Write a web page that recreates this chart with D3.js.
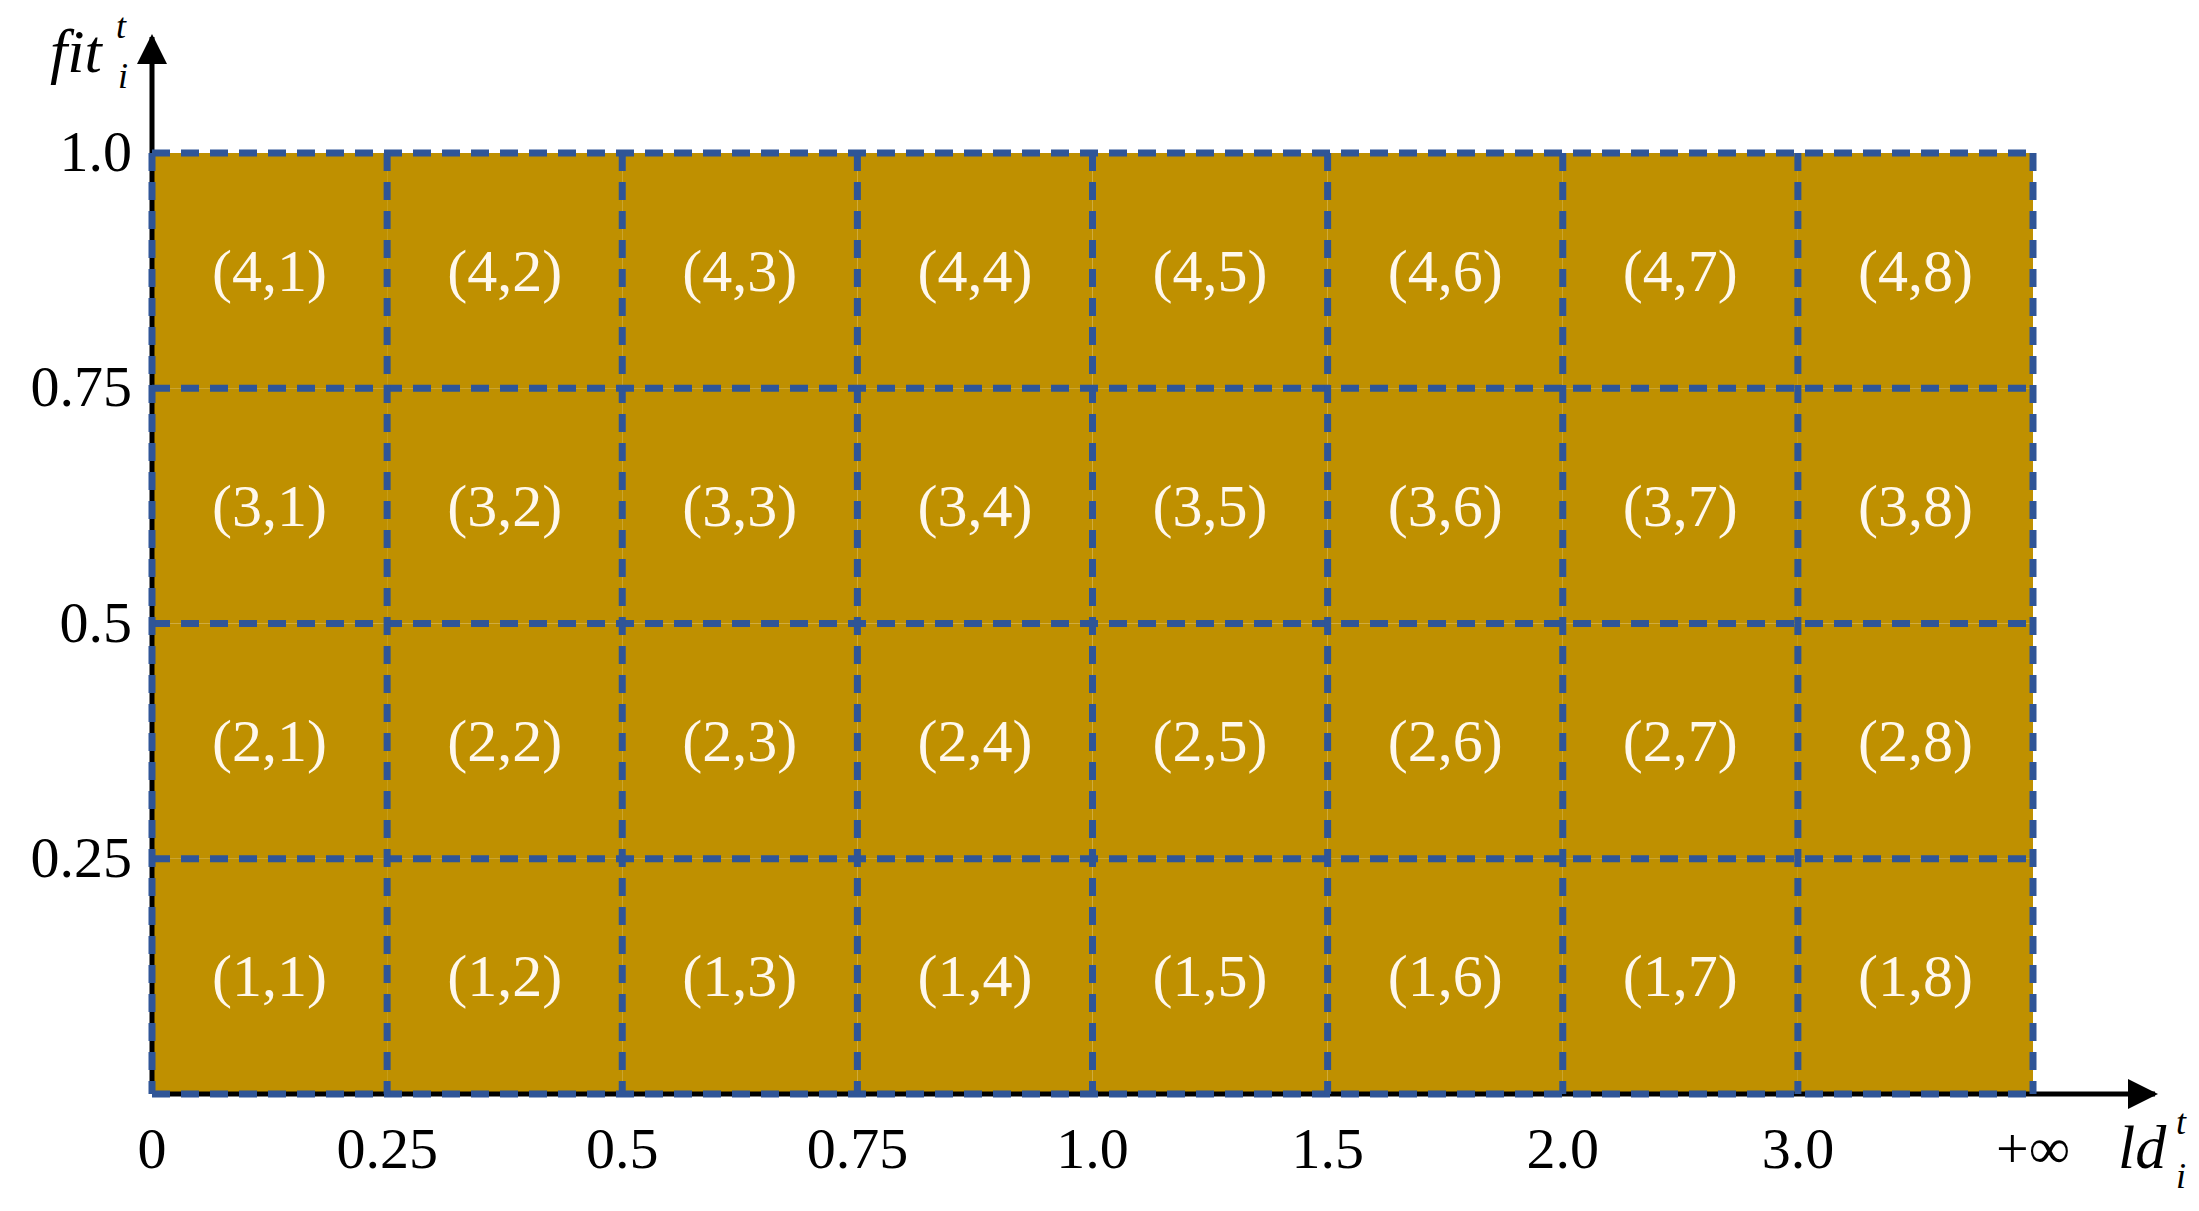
<!DOCTYPE html>
<html><head><meta charset="utf-8">
<script src="https://cdn.jsdelivr.net/npm/d3@7"></script>
<style>body{margin:0;background:#fff}</style></head>
<body><svg id="c" width="2199" height="1211"></svg>
<script>
const xTickLabels = ["0","0.25","0.5","0.75","1.0","1.5","2.0","3.0","+∞"];
const yTickLabels = ["0.25","0.5","0.75","1.0"];
const yTickValues = [0.25,0.5,0.75,1.0];
const columns = [1,2,3,4,5,6,7,8];
const rows = [1,2,3,4];

const svg = d3.select("#c");
const font = "'Liberation Serif','DejaVu Serif',serif";
const L=152, R=2033, T=153, B=1094;
const x = d3.scaleLinear().domain([0,8]).range([L,R]);
const y = d3.scaleLinear().domain([0,1]).range([B,T]);
const fill="#BF9000", blue="#2F5597";

const cells=[]; rows.forEach(r=>columns.forEach(c=>cells.push({r,c})));
svg.selectAll("rect.cell").data(cells).join("rect")
 .attr("x",d=>x(d.c-1)).attr("y",d=>y(d.r*0.25)).attr("width",x(1)-x(0)).attr("height",y(0)-y(0.25))
 .attr("fill",fill);
svg.selectAll("text.cell").data(cells).join("text")
 .attr("x",d=>x(d.c-0.5)).attr("y",d=>y(d.r*0.25-0.125)+20)
 .attr("text-anchor","middle").attr("font-family",font).attr("font-size",60).attr("fill","#FFF8EC")
 .text(d=>`(${d.r},${d.c})`);

// axes
svg.append("defs").append("marker").attr("id","ar").attr("viewBox","0 0 10 10").attr("refX",9).attr("refY",5)
 .attr("markerWidth",10).attr("markerHeight",10).attr("markerUnits","userSpaceOnUse").attr("orient","auto")
 .append("path").attr("d","M0,0L10,5L0,10Z");
d3.select("marker").attr("markerWidth",36).attr("markerHeight",30);
svg.append("line").attr("x1",L).attr("y1",B).attr("x2",L).attr("y2",37).attr("stroke","#000").attr("stroke-width",5).attr("marker-end","url(#ar)");
svg.append("line").attr("x1",L).attr("y1",B).attr("x2",2155).attr("y2",B).attr("stroke","#000").attr("stroke-width",5).attr("marker-end","url(#ar)");

// dashed grid
const dash="18,11";
[0,...yTickValues].forEach(v=>svg.append("line").attr("x1",L).attr("x2",R).attr("y1",y(v)).attr("y2",y(v))
 .attr("stroke",blue).attr("stroke-width",7).attr("stroke-dasharray",dash));
d3.range(0,9).forEach(i=>svg.append("line").attr("x1",x(i)).attr("x2",x(i)).attr("y1",T).attr("y2",B)
 .attr("stroke",blue).attr("stroke-width",7).attr("stroke-dasharray",dash));

// tick labels
svg.selectAll("text.xt").data(xTickLabels).join("text")
 .attr("x",(d,i)=>x(i)).attr("y",1168).attr("text-anchor","middle")
 .attr("font-family",font).attr("font-size",58).text(d=>d);
svg.selectAll("text.yt").data(yTickLabels).join("text")
 .attr("x",132).attr("y",(d,i)=>y(yTickValues[i])+18).attr("text-anchor","end")
 .attr("font-family",font).attr("font-size",58).text(d=>d);

// axis titles
const t1=svg.append("text").attr("x",50).attr("y",72).attr("font-family",font).attr("font-style","italic").attr("font-size",62);
t1.append("tspan").text("fit");
svg.append("text").attr("x",116).attr("y",38).attr("font-family",font).attr("font-style","italic").attr("font-size",36).text("t");
svg.append("text").attr("x",118).attr("y",88).attr("font-family",font).attr("font-style","italic").attr("font-size",36).text("i");
svg.append("text").attr("x",2118).attr("y",1168).attr("font-family",font).attr("font-style","italic").attr("font-size",62).text("ld");
svg.append("text").attr("x",2176).attr("y",1134).attr("font-family",font).attr("font-style","italic").attr("font-size",36).text("t");
svg.append("text").attr("x",2176).attr("y",1188).attr("font-family",font).attr("font-style","italic").attr("font-size",36).text("i");
</script></body></html>
